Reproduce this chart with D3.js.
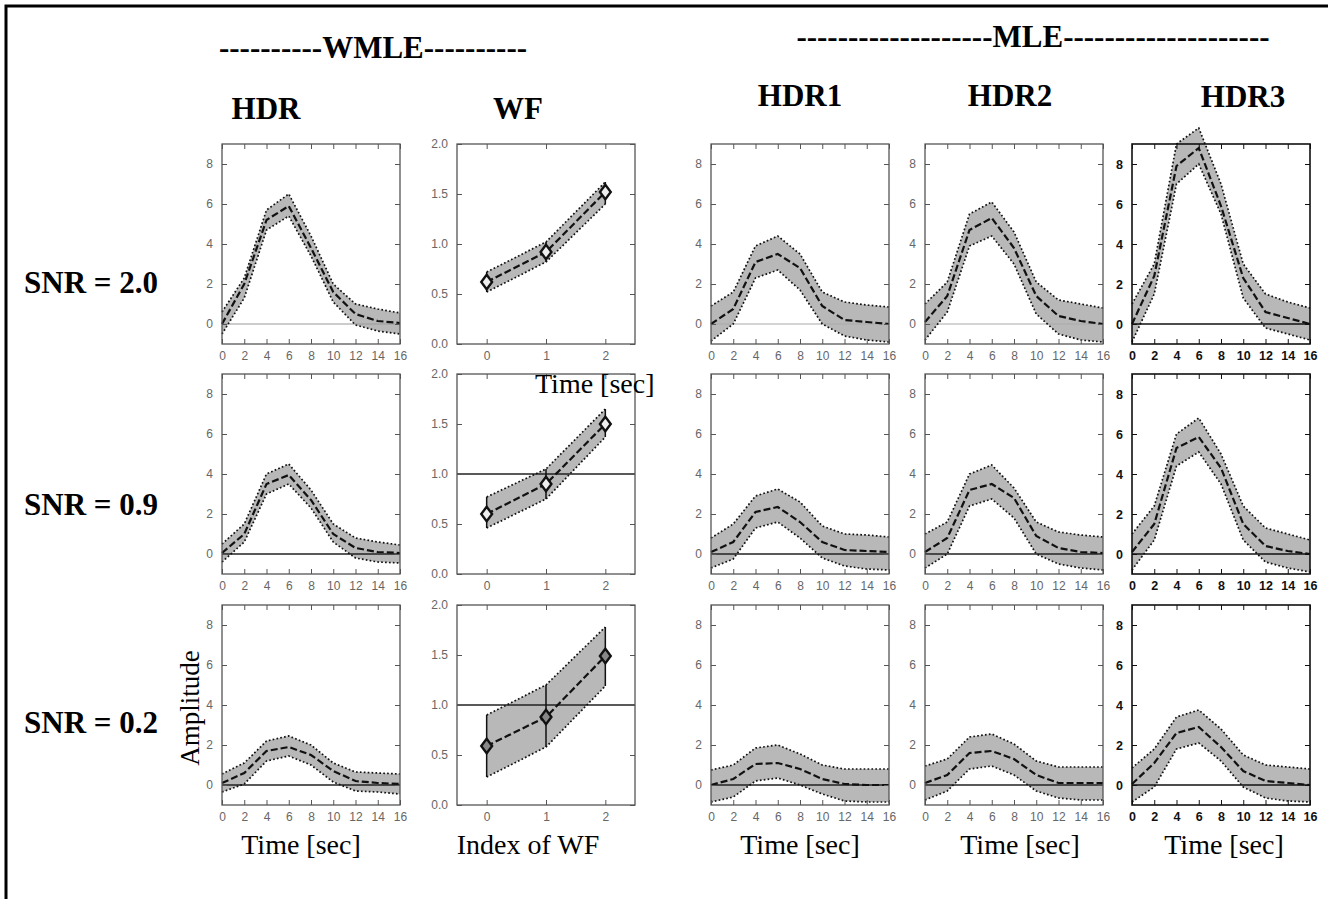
<!DOCTYPE html>
<html>
<head>
<meta charset="utf-8">
<script src="https://cdn.jsdelivr.net/npm/d3@7"></script>
<style>
  body { margin: 0; background: white; }
  svg { display: block; }
</style>
</head>
<body>
<div id="chart"></div>
<script>
// ============================================
// data
// ============================================
const hdrTime = [0, 2, 4, 6, 8, 10, 12, 14, 16];
const wfIndex = [0, 1, 2];
const hdrYTicks = [0, 2, 4, 6, 8];
const hdrXTicks = [0, 2, 4, 6, 8, 10, 12, 14, 16];
const wfYTicks = [0, 0.5, 1.0, 1.5, 2.0];
const wfXTicks = [0, 1, 2];
const snrLabels = ['SNR = 2.0', 'SNR = 0.9', 'SNR = 0.2'];
const columnTitles = ['HDR', 'WF', 'HDR1', 'HDR2', 'HDR3'];
const groupTitles = ['----------WMLE----------', '-------------------MLE--------------------'];
const bottomLabels = ['Time [sec]', 'Index of WF', 'Time [sec]', 'Time [sec]', 'Time [sec]'];

// WMLE HDR
const wHdr20Mean  = [0.0, 2.0, 5.2, 5.9, 3.8, 1.6, 0.5, 0.15, 0.05];
const wHdr20Upper = [0.6, 2.3, 5.7, 6.5, 4.4, 2.0, 1.0, 0.75, 0.55];
const wHdr20Lower = [-0.5, 1.3, 4.7, 5.4, 3.4, 1.1, -0.05, -0.35, -0.5];
const wHdr09Mean  = [0.05, 1.0, 3.5, 3.95, 2.7, 1.0, 0.3, 0.1, 0.05];
const wHdr09Upper = [0.5, 1.5, 4.0, 4.5, 3.2, 1.5, 0.8, 0.6, 0.45];
const wHdr09Lower = [-0.4, 0.6, 3.0, 3.5, 2.3, 0.6, -0.2, -0.4, -0.45];
const wHdr02Mean  = [0.1, 0.6, 1.7, 1.9, 1.5, 0.7, 0.2, 0.1, 0.05];
const wHdr02Upper = [0.55, 1.1, 2.2, 2.45, 2.0, 1.1, 0.65, 0.6, 0.55];
const wHdr02Lower = [-0.35, 0.05, 1.2, 1.45, 1.0, 0.15, -0.3, -0.35, -0.45];

// WMLE WF
const wf20Mean  = [0.62, 0.92, 1.52];
const wf20Upper = [0.72, 1.02, 1.62];
const wf20Lower = [0.52, 0.82, 1.40];
const wf09Mean  = [0.60, 0.90, 1.50];
const wf09Upper = [0.77, 1.05, 1.65];
const wf09Lower = [0.46, 0.75, 1.37];
const wf02Mean  = [0.59, 0.88, 1.49];
const wf02Upper = [0.90, 1.20, 1.78];
const wf02Lower = [0.28, 0.58, 1.19];

// MLE HDR1
const m1Snr20Mean  = [0.0, 0.75, 3.1, 3.5, 2.8, 0.9, 0.2, 0.1, 0.0];
const m1Snr20Upper = [0.9, 1.6, 3.9, 4.4, 3.5, 1.6, 1.1, 0.95, 0.85];
const m1Snr20Lower = [-0.85, 0.0, 2.3, 2.7, 1.7, 0.0, -0.6, -0.8, -0.9];
const m1Snr09Mean  = [0.1, 0.6, 2.1, 2.35, 1.6, 0.6, 0.2, 0.15, 0.1];
const m1Snr09Upper = [0.8, 1.5, 2.9, 3.25, 2.6, 1.4, 1.0, 0.95, 0.85];
const m1Snr09Lower = [-0.7, -0.25, 1.3, 1.6, 0.8, -0.2, -0.6, -0.75, -0.8];
const m1Snr02Mean  = [0.0, 0.3, 1.05, 1.1, 0.8, 0.3, 0.05, 0.0, 0.0];
const m1Snr02Upper = [0.75, 1.0, 1.85, 2.0, 1.55, 1.0, 0.8, 0.8, 0.8];
const m1Snr02Lower = [-0.85, -0.6, 0.2, 0.35, 0.0, -0.45, -0.8, -0.85, -0.85];

// MLE HDR2
const m2Snr20Mean  = [0.1, 1.4, 4.7, 5.3, 3.8, 1.4, 0.4, 0.15, 0.0];
const m2Snr20Upper = [1.0, 2.1, 5.5, 6.1, 4.6, 2.1, 1.2, 1.0, 0.8];
const m2Snr20Lower = [-0.8, 0.6, 3.9, 4.4, 3.0, 0.5, -0.5, -0.8, -0.9];
const m2Snr09Mean  = [0.1, 0.8, 3.2, 3.5, 2.8, 0.9, 0.3, 0.1, 0.05];
const m2Snr09Upper = [1.0, 1.6, 4.0, 4.45, 3.3, 1.6, 1.1, 0.95, 0.85];
const m2Snr09Lower = [-0.7, 0.0, 2.4, 2.75, 1.8, 0.0, -0.5, -0.7, -0.8];
const m2Snr02Mean  = [0.1, 0.5, 1.6, 1.7, 1.3, 0.5, 0.1, 0.1, 0.1];
const m2Snr02Upper = [0.95, 1.3, 2.4, 2.55, 2.05, 1.2, 0.9, 0.9, 0.9];
const m2Snr02Lower = [-0.75, -0.3, 0.8, 0.95, 0.5, -0.3, -0.65, -0.75, -0.75];

// MLE HDR3
const m3Snr20Mean  = [0.0, 2.4, 7.9, 8.8, 5.9, 2.3, 0.6, 0.3, 0.0];
const m3Snr20Upper = [1.0, 3.0, 9.0, 9.8, 7.0, 3.0, 1.5, 1.1, 0.8];
const m3Snr20Lower = [-0.9, 1.5, 7.0, 8.0, 5.5, 1.3, -0.2, -0.5, -0.8];
const m3Snr09Mean  = [0.1, 1.5, 5.3, 5.85, 4.3, 1.5, 0.4, 0.15, 0.0];
const m3Snr09Upper = [1.0, 2.4, 6.0, 6.8, 5.0, 2.4, 1.3, 1.0, 0.7];
const m3Snr09Lower = [-0.8, 0.7, 4.4, 5.1, 3.5, 0.7, -0.4, -0.7, -0.9];
const m3Snr02Mean  = [0.05, 1.1, 2.6, 2.9, 1.9, 0.7, 0.2, 0.1, 0.0];
const m3Snr02Upper = [0.85, 1.8, 3.4, 3.75, 2.8, 1.5, 1.0, 0.9, 0.8];
const m3Snr02Lower = [-0.85, -0.1, 1.8, 2.1, 1.2, -0.1, -0.65, -0.8, -0.85];

// ============================================
// layout
// ============================================
const W = 1328, H = 899;
const colX = [222, 457, 711, 925, 1132];
const rowY = [144, 374, 605];
const pw = 178, ph = 200;

const panels = [
    // row 0 (SNR 2.0)
    { row: 0, col: 0, type: 'hdr', mean: wHdr20Mean, upper: wHdr20Upper, lower: wHdr20Lower, ref: '#999' },
    { row: 0, col: 1, type: 'wf',  mean: wf20Mean,   upper: wf20Upper,   lower: wf20Lower,   ref: null },
    { row: 0, col: 2, type: 'hdr', mean: m1Snr20Mean, upper: m1Snr20Upper, lower: m1Snr20Lower, ref: '#aaa' },
    { row: 0, col: 3, type: 'hdr', mean: m2Snr20Mean, upper: m2Snr20Upper, lower: m2Snr20Lower, ref: '#aaa' },
    { row: 0, col: 4, type: 'hdr', mean: m3Snr20Mean, upper: m3Snr20Upper, lower: m3Snr20Lower, ref: '#111' },
    // row 1 (SNR 0.9)
    { row: 1, col: 0, type: 'hdr', mean: wHdr09Mean, upper: wHdr09Upper, lower: wHdr09Lower, ref: '#222' },
    { row: 1, col: 1, type: 'wf',  mean: wf09Mean,   upper: wf09Upper,   lower: wf09Lower,   ref: '#222' },
    { row: 1, col: 2, type: 'hdr', mean: m1Snr09Mean, upper: m1Snr09Upper, lower: m1Snr09Lower, ref: '#222' },
    { row: 1, col: 3, type: 'hdr', mean: m2Snr09Mean, upper: m2Snr09Upper, lower: m2Snr09Lower, ref: '#222' },
    { row: 1, col: 4, type: 'hdr', mean: m3Snr09Mean, upper: m3Snr09Upper, lower: m3Snr09Lower, ref: '#111' },
    // row 2 (SNR 0.2)
    { row: 2, col: 0, type: 'hdr', mean: wHdr02Mean, upper: wHdr02Upper, lower: wHdr02Lower, ref: '#222' },
    { row: 2, col: 1, type: 'wf',  mean: wf02Mean,   upper: wf02Upper,   lower: wf02Lower,   ref: '#222' },
    { row: 2, col: 2, type: 'hdr', mean: m1Snr02Mean, upper: m1Snr02Upper, lower: m1Snr02Lower, ref: '#222' },
    { row: 2, col: 3, type: 'hdr', mean: m2Snr02Mean, upper: m2Snr02Upper, lower: m2Snr02Lower, ref: '#222' },
    { row: 2, col: 4, type: 'hdr', mean: m3Snr02Mean, upper: m3Snr02Upper, lower: m3Snr02Lower, ref: '#111' }
];

const svg = d3.select('#chart')
    .append('svg')
    .attr('width', W)
    .attr('height', H)
    .style('background', 'white');

// 바깥 테두리 (왼쪽 + 위쪽)
svg.append('path')
    .attr('d', `M6,${H + 5} L6,6 L${W + 5},6`)
    .attr('fill', 'none')
    .attr('stroke', '#000')
    .attr('stroke-width', 3);

const serif = '"Liberation Serif", "Times New Roman", serif';
const sans = '"Liberation Sans", Helvetica, Arial, sans-serif';

function drawPanel(p) {
    const bold = p.col === 4;
    const g = svg.append('g')
        .attr('transform', `translate(${colX[p.col]},${rowY[p.row]})`);

    const isWf = p.type === 'wf';
    const xs = isWf ? wfIndex : hdrTime;
    const x = d3.scaleLinear()
        .domain(isWf ? [-0.5, 2.5] : [0, 16])
        .range([0, pw]);
    const y = d3.scaleLinear()
        .domain(isWf ? [0, 2] : [-1, 9])
        .range([ph, 0]);

    const pts = xs.map((t, i) => ({ t, m: p.mean[i], u: p.upper[i], l: p.lower[i] }));

    // 신뢰 구간 (회색 영역)
    const area = d3.area()
        .x(d => x(d.t))
        .y0(d => y(d.l))
        .y1(d => y(d.u));
    g.append('path')
        .datum(pts)
        .attr('fill', '#b8b8b8')
        .attr('d', area);

    // 기준선
    if (p.ref) {
        const refVal = isWf ? 1.0 : 0;
        g.append('line')
            .attr('x1', 0).attr('x2', pw)
            .attr('y1', y(refVal)).attr('y2', y(refVal))
            .attr('stroke', p.ref)
            .attr('stroke-width', p.ref === '#aaa' || p.ref === '#999' ? 1.2 : 1.5);
    }

    // 상/하한 점선
    ['u', 'l'].forEach(k => {
        g.append('path')
            .datum(pts)
            .attr('fill', 'none')
            .attr('stroke', '#111')
            .attr('stroke-width', 1.7)
            .attr('stroke-dasharray', '1.7,2.2')
            .attr('d', d3.line().x(d => x(d.t)).y(d => y(d[k])));
    });

    // 평균선 (파선)
    g.append('path')
        .datum(pts)
        .attr('fill', 'none')
        .attr('stroke', '#111')
        .attr('stroke-width', 2.2)
        .attr('stroke-dasharray', '7,3')
        .attr('d', d3.line().x(d => x(d.t)).y(d => y(d.m)));

    if (isWf) {
        // 오차 막대
        g.selectAll('.err')
            .data(pts)
            .enter()
            .append('line')
            .attr('x1', d => x(d.t)).attr('x2', d => x(d.t))
            .attr('y1', d => y(d.l)).attr('y2', d => y(d.u))
            .attr('stroke', '#111')
            .attr('stroke-width', 1.5);
        // 다이아몬드 마커
        g.selectAll('.dia')
            .data(pts)
            .enter()
            .append('path')
            .attr('transform', d => `translate(${x(d.t)},${y(d.m)}) scale(1.3,1)`)
            .attr('d', d3.symbol().type(d3.symbolDiamond).size(60))
            .attr('fill', p.row === 2 ? '#888' : '#eee')
            .attr('stroke', '#111')
            .attr('stroke-width', 2);
    }

    // 축
    const xt = isWf ? wfXTicks : hdrXTicks;
    const yt = isWf ? wfYTicks : hdrYTicks;
    const tickCol = bold ? '#111' : '#666';

    const bottom = g.append('g')
        .attr('transform', `translate(0,${ph})`)
        .call(d3.axisBottom(x).tickValues(xt).tickSizeInner(-5).tickSizeOuter(0)
            .tickPadding(7).tickFormat(d3.format('d')));
    const left = g.append('g')
        .call(d3.axisLeft(y).tickValues(yt).tickSizeInner(-5).tickSizeOuter(0)
            .tickPadding(9).tickFormat(isWf ? d3.format('.1f') : d3.format('d')));
    const top = g.append('g')
        .call(d3.axisTop(x).tickValues(xt).tickSizeInner(-5).tickSizeOuter(0).tickFormat(''));
    const right = g.append('g')
        .attr('transform', `translate(${pw},0)`)
        .call(d3.axisRight(y).tickValues(yt).tickSizeInner(-5).tickSizeOuter(0).tickFormat(''));

    [bottom, left, top, right].forEach(a => {
        a.select('.domain').remove();
        a.selectAll('line').attr('stroke', bold ? '#111' : '#555').attr('stroke-width', 1);
        a.selectAll('text')
            .attr('fill', tickCol)
            .style('font-family', sans)
            .style('font-size', bold ? '12.5px' : '12px')
            .style('font-weight', bold ? 'bold' : 'normal');
    });

    // 프레임
    g.append('rect')
        .attr('width', pw)
        .attr('height', ph)
        .attr('fill', 'none')
        .attr('stroke', bold ? '#111' : '#555')
        .attr('stroke-width', bold ? 1.6 : 1.3);
}

panels.forEach(drawPanel);

// 제목들
const groupX = [373, 1033];
const groupY = [58, 47];
groupTitles.forEach((t, i) => {
    svg.append('text')
        .attr('x', groupX[i])
        .attr('y', groupY[i])
        .attr('text-anchor', 'middle')
        .style('font-family', serif)
        .style('font-weight', 'bold')
        .style('font-size', '31px')
        .text(t);
});

const titleX = [266, 518, 800, 1010, 1243];
const titleY = [119, 119, 106, 106, 107];
columnTitles.forEach((t, i) => {
    svg.append('text')
        .attr('x', titleX[i])
        .attr('y', titleY[i])
        .attr('text-anchor', 'middle')
        .style('font-family', serif)
        .style('font-weight', 'bold')
        .style('font-size', '31px')
        .text(t);
});

const snrY = [293, 515, 733];
snrLabels.forEach((t, i) => {
    svg.append('text')
        .attr('x', 24)
        .attr('y', snrY[i])
        .style('font-family', serif)
        .style('font-weight', 'bold')
        .style('font-size', '31px')
        .text(t);
});

const bottomX = [301, 528, 800, 1020, 1224];
bottomLabels.forEach((t, i) => {
    svg.append('text')
        .attr('x', bottomX[i])
        .attr('y', 854)
        .attr('text-anchor', 'middle')
        .style('font-family', serif)
        .style('font-size', '28px')
        .text(t);
});

// Y축 레이블
svg.append('text')
    .attr('transform', 'translate(199,708) rotate(-90)')
    .attr('text-anchor', 'middle')
    .style('font-family', serif)
    .style('font-size', '27px')
    .text('Amplitude');

// 겹쳐진 레이블
svg.append('text')
    .attr('x', 535)
    .attr('y', 393)
    .style('font-family', serif)
    .style('font-size', '28px')
    .text('Time [sec]');
</script>
</body>
</html>
